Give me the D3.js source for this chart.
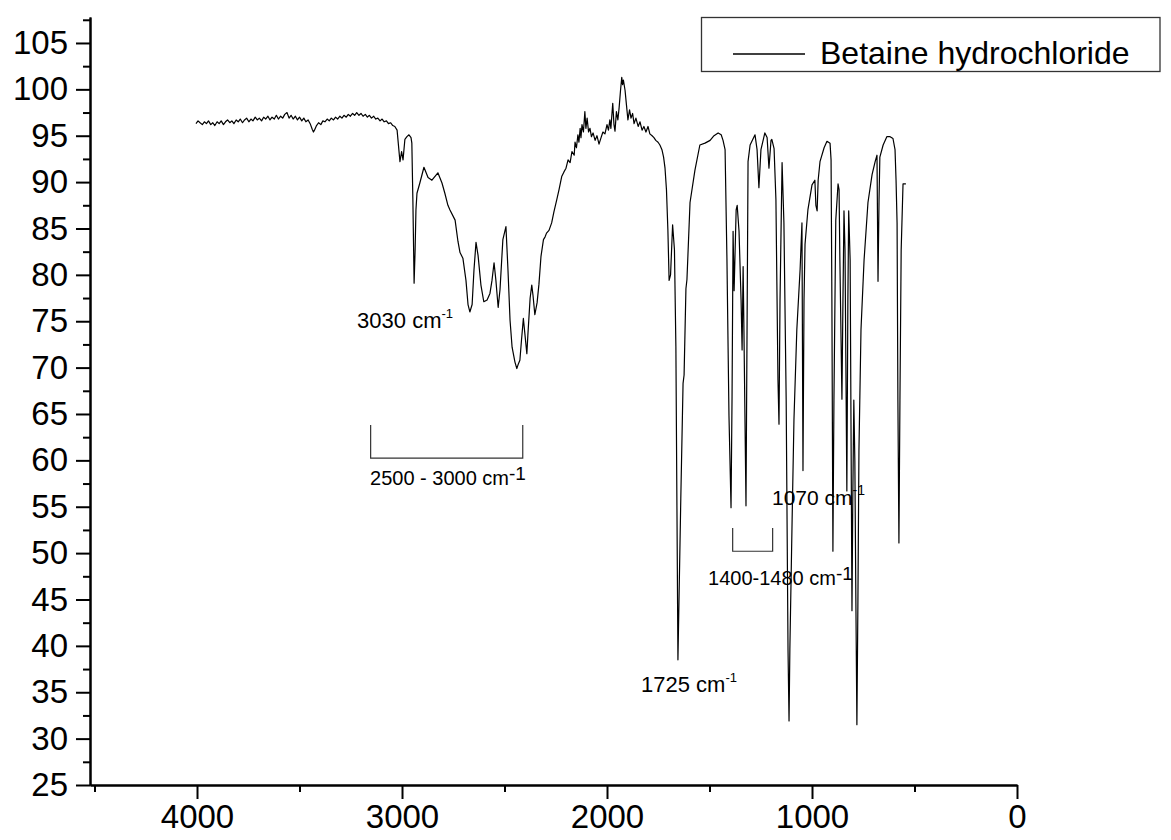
<!DOCTYPE html>
<html><head><meta charset="utf-8">
<script src="https://cdn.jsdelivr.net/npm/d3@7"></script>
<style>
body{margin:0;background:#fff}
svg{display:block}
text{font-family:"Liberation Sans",Arial,Helvetica,sans-serif;fill:#000}
</style>
</head><body>
<svg id="chart" width="1171" height="840"></svg>
<script>
const seriesName = "Betaine hydrochloride";

// [wavenumber on the plotted axis (cm-1), transmittance (%)]
const ohRegion = [
[4005,96.3],[3995,96.6],[3985,96.4],[3974,96.2],[3964,96.5],[3954,96.3],[3944,96.6],[3933,96.2],[3923,96.4],[3913,96.1],
[3902,96.5],[3892,96.3],[3882,96.6],[3871,96.2],[3861,96.5],[3851,96.7],[3840,96.4],[3830,96.6],[3820,96.3],[3809,96.7],
[3799,96.5],[3789,96.8],[3778,96.4],[3768,96.7],[3758,96.9],[3747,96.5],[3737,96.8],[3727,96.6],[3716,97.0],[3706,96.7],
[3696,96.9],[3685,96.6],[3675,97.0],[3665,96.8],[3654,97.1],[3644,96.7],[3634,97.0],[3623,96.8],[3613,97.2],[3603,96.8],
[3592,97.1],[3582,96.9],[3572,97.3],[3561,97.5],[3551,96.9],[3541,97.2],[3531,96.8],[3520,97.1],[3510,96.7],[3500,97.0],
[3489,96.6],[3479,96.9],[3469,96.5],[3458,96.7],[3448,96.3],[3438,95.7],[3432,95.4],[3427,95.6],[3417,96.1],[3407,96.4],
[3396,96.2],[3386,96.6],[3376,96.5],[3365,96.8],[3355,96.6],[3345,96.9],[3334,96.7],[3324,97.0],[3314,96.8],[3303,97.1],
[3293,96.9],[3283,97.2],[3272,97.0],[3262,97.3],[3252,97.1],[3241,97.4],[3231,97.2],[3221,97.5],[3210,97.2],[3200,97.4],
[3190,97.1],[3179,97.3],[3169,97.0],[3159,97.2],[3149,96.9],[3138,97.1],[3128,96.8],[3118,96.9],[3107,96.6],[3097,96.8],
[3087,96.5],[3076,96.6],[3066,96.3],[3056,96.4],[3045,96.1],[3035,96.0]
];

const chRegion = [
[3024,95.6],[3010,92.2],[3002,93.3],[2995,92.4],[2986,94.6],[2976,94.9],[2966,95.1],[2956,94.8],[2952,94.2],[2947,88.1],
[2941,79.1],[2936,82.7],[2932,87.0],[2927,88.8],[2913,89.9],[2893,91.6],[2873,90.5],[2854,90.2],[2825,91.0],[2805,89.9],
[2791,88.8],[2776,87.5],[2766,87.0],[2741,85.9],[2727,83.6],[2717,82.4],[2703,81.8],[2688,79.4],[2678,76.8],[2669,76.0],
[2658,76.8],[2649,80.5],[2639,83.5],[2629,82.1],[2615,78.9],[2601,77.1],[2585,77.3],[2571,78.0],[2561,79.4],[2551,81.3],
[2542,79.4],[2531,76.5],[2522,78.4],[2508,83.8],[2493,85.2],[2483,80.5],[2473,75.1],[2463,72.2],[2449,70.6],[2440,69.9],
[2434,70.3],[2425,70.8],[2417,73.0],[2408,75.3],[2400,73.5],[2391,71.5],[2386,73.5],[2375,77.5],[2367,78.9],[2361,77.8],
[2352,75.7],[2341,77.0],[2332,79.0],[2322,82.0],[2310,83.8]
];

const overtoneRegion = [
[2302,84.1],[2295,84.5],[2283,84.8],[2270,85.6],[2259,86.8],[2245,88.1],[2234,89.2],[2221,90.6],[2210,91.1],[2200,91.5],
[2190,92.4],[2180,92.1],[2171,93.3],[2160,92.9],[2156,94.3],[2149,93.7],[2142,95.1],[2137,94.3],[2131,95.8],[2127,94.8],
[2122,96.2],[2115,95.4],[2108,97.6],[2103,95.8],[2097,96.9],[2090,95.4],[2083,95.8],[2076,94.9],[2068,95.3],[2058,94.5],
[2049,95.0],[2039,94.1],[2029,94.8],[2020,95.4],[2010,95.2],[2000,96.2],[1993,95.6],[1986,96.7],[1981,95.8],[1972,98.5],
[1966,96.2],[1961,95.5],[1954,97.6],[1947,96.7],[1941,98.0],[1934,99.9],[1928,101.3],[1924,100.5],[1920,101.0],[1912,99.9],
[1905,98.3],[1898,96.7],[1890,97.8],[1883,96.9],[1875,97.4],[1868,96.3],[1859,96.9],[1848,96.0],[1839,96.5],[1829,95.6],
[1820,96.0],[1810,95.4],[1800,96.0],[1791,95.2],[1780,95.0],[1771,94.8],[1762,94.5],[1751,94.3],[1742,94.0],[1732,93.5],
[1724,92.7],[1717,91.5],[1710,89.2],[1703,84.8],[1697,79.4],[1690,80.0],[1680,85.4]
];

const fingerprintRegion = [
[1671,82.7],[1664,72.3],[1654,38.5],[1640,55.9],[1629,68.3],[1624,69.2],[1615,78.5],[1610,79.5],[1595,87.8],[1571,91.3],
[1547,94.0],[1522,94.2],[1497,94.5],[1478,95.0],[1458,95.3],[1443,95.1],[1434,94.5],[1424,93.5],[1415,81.8],[1405,64.8],
[1395,54.9],[1390,66.9],[1385,84.7],[1380,78.3],[1370,87.0],[1365,87.5],[1356,84.7],[1346,77.3],[1341,71.9],[1336,80.9],
[1332,74.0],[1322,55.1],[1316,77.3],[1312,92.2],[1302,94.0],[1278,95.1],[1268,93.5],[1259,89.4],[1249,93.5],[1230,95.3],
[1219,94.8],[1210,91.5],[1200,94.5],[1196,94.6],[1185,93.6],[1176,88.1],[1166,68.7],[1161,63.9],[1156,77.3],[1146,92.1],
[1137,85.6],[1126,66.5],[1117,39.6],[1112,31.9],[1108,39.6],[1097,53.6],[1088,64.4],[1074,74.1],[1058,80.6],[1049,85.6],
[1044,58.9],[1039,77.3],[1034,83.3],[1020,87.0],[1000,89.7],[986,90.2],[981,87.5],[975,86.9],[970,90.2],[961,92.2],
[941,93.7],[927,94.4],[912,94.2],[907,92.4],[903,77.3],[898,50.2],[893,66.5],[884,85.9],[873,89.8],[868,89.2],
[864,81.6],[854,66.6],[849,77.3],[844,86.9],[839,82.7],[830,56.7],[825,77.3],[821,86.9],[814,81.6],[805,43.8],
[801,55.8],[796,66.5],[791,60.0],[786,44.9],[781,31.5],[776,44.9],[771,61.1],[761,74.1],[746,81.6],[727,87.8],
[707,90.8],[692,92.2],[683,92.9],[678,79.3],[673,88.1],[669,92.7],[653,94.0],[635,94.9],[619,94.9],[605,94.7],
[595,93.5],[590,90.2],[585,85.6],[581,66.5],[576,51.1],[571,66.5],[565,82.7],[556,89.8],[542,89.8]
];

const xMajorTicks = [4000, 3000, 2000, 1000, 0];
const xMinorTicks = [4500, 3500, 2500, 1500, 500];
const yMajorTicks = [25, 30, 35, 40, 45, 50, 55, 60, 65, 70, 75, 80, 85, 90, 95, 100, 105];
const yMinorTicks = [27.5, 32.5, 37.5, 42.5, 47.5, 52.5, 57.5, 62.5, 67.5, 72.5, 77.5, 82.5, 87.5, 92.5, 97.5, 102.5, 107.5];

const spectrum = ohRegion.concat(chRegion, overtoneRegion, fingerprintRegion);

const svg = d3.select("#chart");
const x = d3.scaleLinear().domain([4522, 0]).range([90, 1017]);
const y = d3.scaleLinear().domain([25, 107.8]).range([785, 17]);

// spectrum
svg.append("path")
  .datum(spectrum)
  .attr("fill", "none")
  .attr("stroke", "#000")
  .attr("stroke-width", 1.2)
  .attr("stroke-linejoin", "round")
  .attr("d", d3.line().x(d => x(d[0])).y(d => y(d[1])));

function styleAxis(g) {
  g.selectAll("path.domain").attr("stroke", "#000").attr("stroke-width", 2);
  g.selectAll(".tick line").attr("stroke", "#000").attr("stroke-width", 2);
  g.selectAll(".tick text").style("font-size", "33px").attr("fill", "#000");
}

// x axis
svg.append("g").attr("transform", "translate(0,785)")
  .call(d3.axisBottom(x).tickValues(xMinorTicks).tickSize(7).tickSizeOuter(0).tickFormat(""))
  .call(styleAxis);
svg.append("g").attr("transform", "translate(0,785)")
  .call(d3.axisBottom(x).tickValues(xMajorTicks).tickSize(14).tickSizeOuter(0).tickPadding(6).tickFormat(d3.format("d")))
  .call(styleAxis);

// y axis
svg.append("g").attr("transform", "translate(90,0)")
  .call(d3.axisLeft(y).tickValues(yMinorTicks).tickSize(7).tickSizeOuter(0).tickFormat(""))
  .call(styleAxis);
svg.append("g").attr("transform", "translate(90,0)")
  .call(d3.axisLeft(y).tickValues(yMajorTicks).tickSize(14).tickSizeOuter(0).tickPadding(8).tickFormat(d3.format("d")))
  .call(styleAxis);

// annotations
const ann = svg.append("g");
function label(wn, t, main, sup, size, supSize, supDy) {
  const tx = ann.append("text").attr("x", x(wn)).attr("y", y(t)).style("font-size", size + "px");
  tx.append("tspan").text(main);
  tx.append("tspan").text(sup).style("font-size", supSize + "px").attr("dy", supDy);
}
label(3219, 74.3, "3030 cm", "-1", 22, 13, -10);
label(1834, 35.0, "1725 cm", "-1", 22, 13, -10);
label(3156, 57.3, "2500 - 3000 cm", "-1", 20, 19, -5);
label(1507, 46.6, "1400-1480 cm", "-1", 20, 19, -5);
label(1195, 55.2, "1070 cm", "-1", 21, 14, -10);

function bracket(w1, w2, tTop, tBottom) {
  ann.append("path")
    .attr("fill", "none").attr("stroke", "#333").attr("stroke-width", 1.2)
    .attr("d", `M${x(w1)},${y(tTop)}V${y(tBottom)}H${x(w2)}V${y(tTop)}`);
}
bracket(3153, 2411, 63.8, 60.25);
bracket(1387, 1192, 52.7, 50.2);

// legend
const lg = svg.append("g");
lg.append("rect").attr("x", 701.5).attr("y", 17.5).attr("width", 458.5).attr("height", 54)
  .attr("fill", "#fff").attr("stroke", "#333").attr("stroke-width", 1.3);
lg.append("line").attr("x1", 733).attr("x2", 805).attr("y1", 54).attr("y2", 54)
  .attr("stroke", "#000").attr("stroke-width", 1.5);
lg.append("text").attr("x", 820).attr("y", 64).style("font-size", "32px").text(seriesName);
</script>
</body></html>
